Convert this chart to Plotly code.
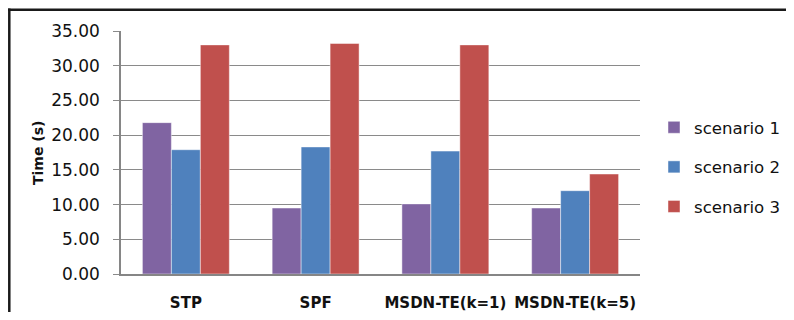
import plotly.graph_objects as go

categories = ["STP", "SPF", "MSDN-TE(k=1)", "MSDN-TE(k=5)"]
series_names = ["scenario 1", "scenario 2", "scenario 3"]
scenario1 = [21.8, 9.5, 10.1, 9.5]
scenario2 = [17.9, 18.3, 17.7, 12.0]
scenario3 = [33.0, 33.2, 33.0, 14.4]
y_ticks = [0, 5, 10, 15, 20, 25, 30, 35]
y_tick_labels = ["0.00", "5.00", "10.00", "15.00", "20.00", "25.00", "30.00", "35.00"]

colors = ["#8064A2", "#4F81BD", "#C0504D"]

fig = go.Figure()
for i, (name, vals) in enumerate(zip(series_names, [scenario1, scenario2, scenario3])):
    fig.add_trace(go.Bar(
        x=categories, y=vals, name=name, legendgroup=name,
        marker=dict(color=colors[i], line=dict(color="rgba(255,255,255,0.45)", width=1)),
    ))

# the page has an 8px body margin; size the figure so the page is exactly 794x320
OFF = 8
W, H = 794 - 2 * OFF, 320 - 2 * OFF
L, T = 121 - OFF, 31 - OFF
R = W - (640 - OFF)
B = H - (274 - OFF)
pw, ph = W - L - R, H - T - B

def px(x):
    return (x - OFF - L) / pw

def py(y):
    return (H - B - (y - OFF)) / ph

fig.update_layout(
    width=W, height=H,
    margin=dict(l=L, r=R, t=T, b=B, pad=0, autoexpand=False),
    paper_bgcolor="white", plot_bgcolor="white",
    barmode="group", bargap=0.33, bargroupgap=0,
    font=dict(family="DejaVu Sans", size=16, color="#111111"),
    showlegend=True,
    legend=dict(
        x=px(654), y=py(167), xanchor="left", yanchor="middle",
        font=dict(family="DejaVu Sans", size=16.6, color="#111111"),
        tracegroupgap=15, itemwidth=30, bgcolor="rgba(0,0,0,0)",
    ),
    xaxis=dict(
        automargin=False,
        showgrid=False, showline=True, linecolor="#868686", linewidth=1.5,
        ticks="", ticklabelstandoff=14,
        tickfont=dict(family="DejaVu Sans", size=15, color="#111111", weight="bold"),
    ),
    yaxis=dict(
        automargin=False,
        range=[0, 35], tickvals=y_ticks, ticktext=y_tick_labels,
        showgrid=True, gridcolor="#8a8a8a", gridwidth=1.3,
        showline=True, linecolor="#868686", linewidth=1.5,
        ticks="outside", ticklen=6, tickcolor="#8a8a8a", tickwidth=1.3,
        ticklabelstandoff=10, zeroline=False,
        tickfont=dict(family="DejaVu Sans", size=17, color="#111111"),
    ),
    annotations=[dict(
        text="<b>Time (s)</b>", textangle=-90, xref="paper", yref="paper",
        x=px(38), y=py(153), xanchor="center", yanchor="middle", showarrow=False,
        font=dict(family="DejaVu Sans", size=14, color="#111111"),
    )],
    shapes=[
        dict(type="line", xref="paper", yref="paper", x0=px(8), x1=px(793),
             y0=py(9.8), y1=py(9.8), line=dict(color="#1a1a1a", width=2.5), layer="above"),
        dict(type="line", xref="paper", yref="paper", x0=px(9.3), x1=px(9.3),
             y0=py(8.6), y1=py(319), line=dict(color="#1a1a1a", width=2.5), layer="above"),
    ],
)

fig.write_html("out.html")
